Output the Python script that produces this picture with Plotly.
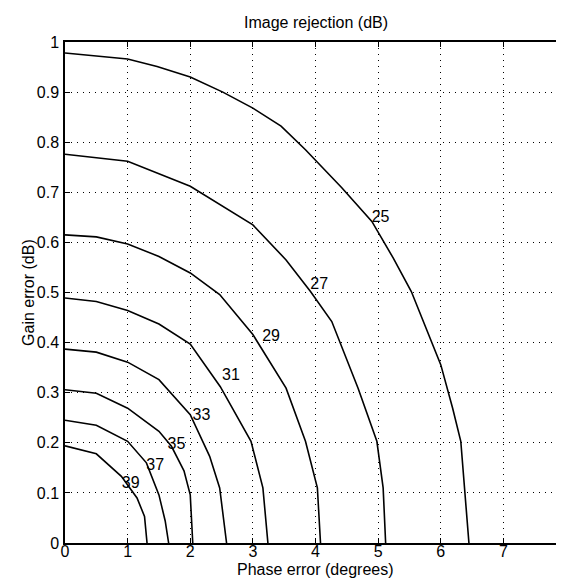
import plotly.graph_objects as go

# Contour levels (dB) and points: phase error (deg), gain error (dB)
levels = [25, 27, 29, 31, 33, 35, 37, 39]

phase_25 = [0, 1, 1.47, 2, 2.52, 3, 3.45, 3.84, 4.42, 4.9, 5.24, 5.53, 6.0, 6.19, 6.32, 6.39, 6.45]
gain_25 = [0.978, 0.966, 0.951, 0.930, 0.900, 0.868, 0.832, 0.785, 0.709, 0.642, 0.569, 0.502, 0.356, 0.269, 0.203, 0.103, 0.0]

phase_27 = [0, 1, 2, 3, 3.53, 3.92, 4.26, 4.68, 4.98, 5.08, 5.12]
gain_27 = [0.776, 0.762, 0.712, 0.635, 0.565, 0.502, 0.442, 0.309, 0.203, 0.110, 0.0]

phase_29 = [0, 0.5, 1, 1.5, 2, 2.47, 3, 3.53, 3.84, 4.03, 4.08]
gain_29 = [0.615, 0.611, 0.597, 0.572, 0.539, 0.496, 0.416, 0.309, 0.203, 0.110, 0.0]

phase_31 = [0, 0.5, 1, 1.5, 2, 2.48, 2.97, 3.16, 3.24]
gain_31 = [0.489, 0.482, 0.464, 0.437, 0.397, 0.312, 0.203, 0.110, 0.0]

phase_33 = [0, 0.5, 1, 1.5, 2, 2.31, 2.47, 2.58]
gain_33 = [0.387, 0.381, 0.361, 0.326, 0.256, 0.173, 0.110, 0.0]

phase_35 = [0, 0.5, 1, 1.5, 1.7, 1.9, 2, 2.04]
gain_35 = [0.306, 0.299, 0.269, 0.223, 0.193, 0.144, 0.096, 0.0]

phase_37 = [0, 0.5, 1, 1.3, 1.5, 1.6, 1.655]
gain_37 = [0.245, 0.235, 0.203, 0.160, 0.096, 0.044, 0.0]

phase_39 = [0, 0.5, 0.9, 1.15, 1.27, 1.31]
gain_39 = [0.194, 0.178, 0.133, 0.090, 0.053, 0.0]

# Contour label positions
label_phase = [5.04, 4.06, 3.29, 2.65, 2.18, 1.78, 1.44, 1.05]
label_gain = [0.648, 0.515, 0.412, 0.333, 0.253, 0.196, 0.154, 0.118]

x_ticks = [0, 1, 2, 3, 4, 5, 6, 7, 8]
x_tick_labels = ["0", "1", "2", "3", "4", "5", "6", "7", "8"]
y_ticks = [0, 0.1, 0.2, 0.3, 0.4, 0.5, 0.6, 0.7, 0.8, 0.9, 1]
y_tick_labels = ["0", "0.1", "0.2", "0.3", "0.4", "0.5", "0.6", "0.7", "0.8", "0.9", "1"]

curves = [
    (phase_25, gain_25), (phase_27, gain_27), (phase_29, gain_29), (phase_31, gain_31),
    (phase_33, gain_33), (phase_35, gain_35), (phase_37, gain_37), (phase_39, gain_39),
]

FONT = "Liberation Sans, Arial, sans-serif"

fig = go.Figure()
for lvl, (px, py) in zip(levels, curves):
    fig.add_trace(go.Scatter(x=px, y=py, mode="lines", name=str(lvl),
                             line=dict(color="black", width=1.6), showlegend=False,
                             hoverinfo="skip"))

fig.add_trace(go.Scatter(x=label_phase, y=label_gain, mode="text",
                         text=[str(l) for l in levels],
                         textfont=dict(family=FONT, size=16, color="black"),
                         showlegend=False, hoverinfo="skip"))

axis_common = dict(
    showgrid=True, gridcolor="black", gridwidth=1, griddash="1px,5px",
    zeroline=False, showline=True, linecolor="black", linewidth=1.5,
    mirror="ticks", ticks="inside", ticklen=5, tickcolor="black",
    tickfont=dict(family=FONT, size=16, color="black"),
)

fig.update_xaxes(range=[0, 8], tickvals=x_ticks, ticktext=x_tick_labels,
                 ticklabelstandoff=-7, ticklabeloverflow="allow", **axis_common)
fig.update_yaxes(range=[0, 1], tickvals=y_ticks, ticktext=y_tick_labels,
                 ticklabelstandoff=1, **axis_common)

fig.update_layout(
    width=564, height=579,
    margin=dict(l=57, r=1, t=34, b=44),
    plot_bgcolor="white", paper_bgcolor="white",
    font=dict(family=FONT, size=16, color="black"),
    annotations=[
        dict(text="Image rejection (dB)", xref="paper", yref="paper", x=0.5, y=1.038,
             xanchor="center", yanchor="middle", showarrow=False,
             font=dict(family=FONT, size=16, color="black")),
        dict(text="Phase error (degrees)", xref="paper", yref="paper", x=0.5, y=-0.053,
             xanchor="center", yanchor="middle", showarrow=False,
             font=dict(family=FONT, size=16, color="black")),
        dict(text="Gain error (dB)", xref="paper", yref="paper", x=-0.073, y=0.5,
             xanchor="center", yanchor="middle", showarrow=False, textangle=-90,
             font=dict(family=FONT, size=16, color="black")),
    ],
)

fig.write_html("out.html")
